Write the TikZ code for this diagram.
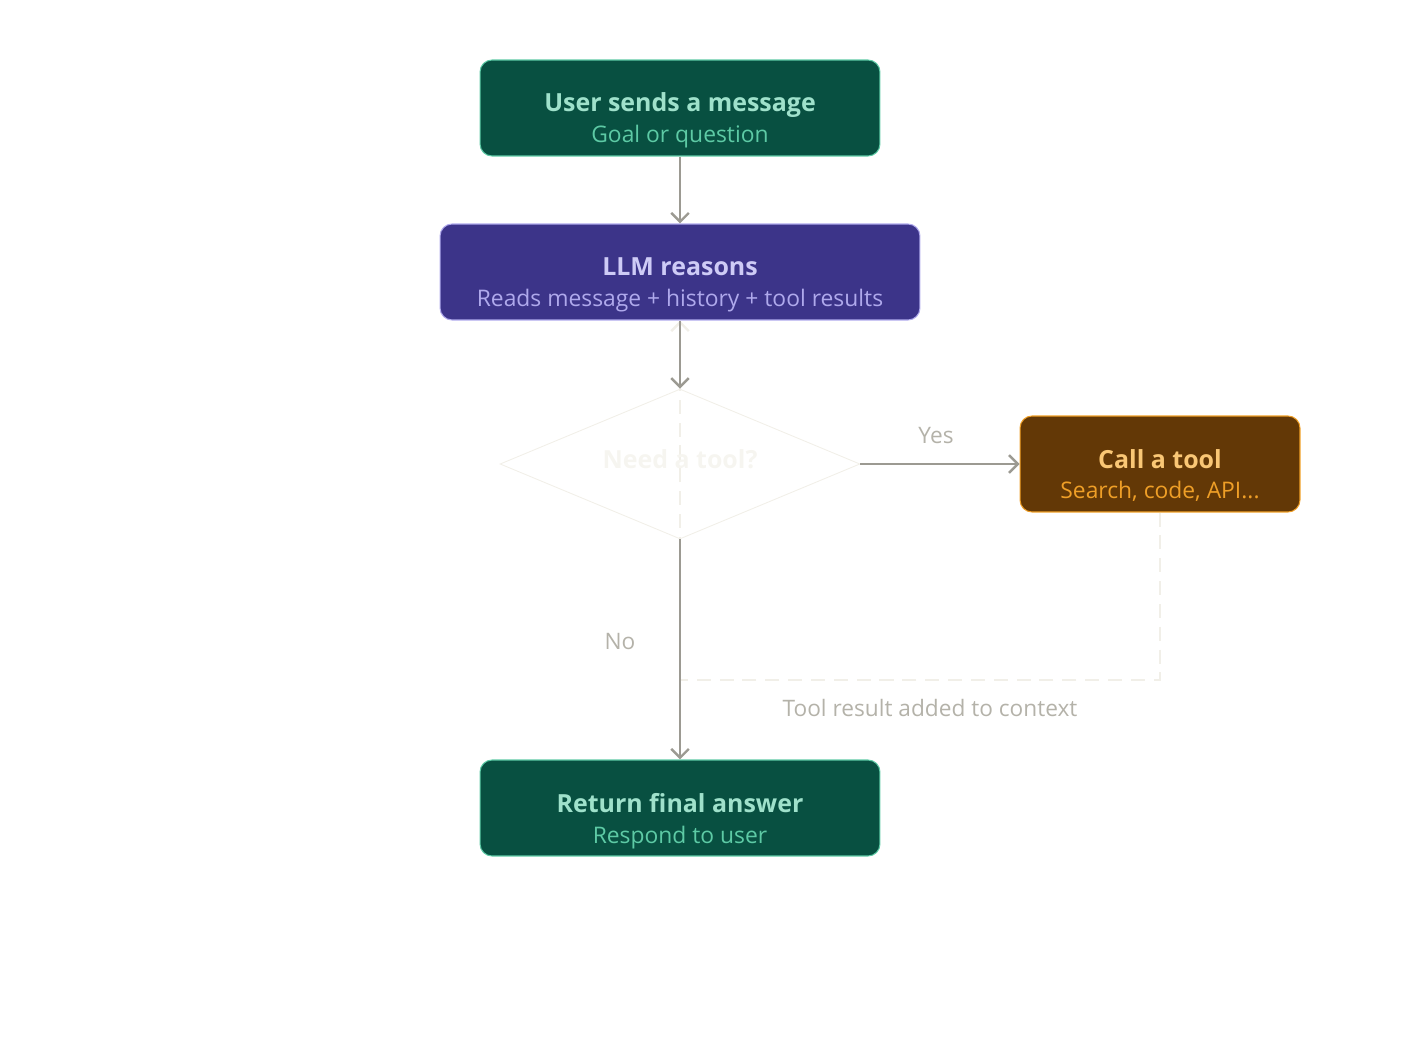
\documentclass[tikz,border=0pt]{standalone}
\usepackage{fontspec}
\setmainfont{Open Sans}
\usetikzlibrary{shapes.geometric,arrows.meta}

\definecolor{vertfond}{HTML}{085041}
\definecolor{vertbord}{HTML}{5DCAA5}
\definecolor{verttitre}{HTML}{9FE1CB}
\definecolor{violetfond}{HTML}{3C3489}
\definecolor{violetbord}{HTML}{AFA9EC}
\definecolor{violettitre}{HTML}{CECBF6}
\definecolor{ambrefond}{HTML}{633806}
\definecolor{ambrebord}{HTML}{EF9F27}
\definecolor{ambretitre}{HTML}{FAC775}
\definecolor{fleche}{HTML}{9C9A92}
\definecolor{etiq}{HTML}{B4B2A9}
\definecolor{pale}{HTML}{F1EFE8}
\definecolor{palepale}{HTML}{F6F5F0}

\begin{document}
\begin{tikzpicture}[x=0.02cm,y=-0.02cm]
    \useasboundingbox (0,0) rectangle (1420,1040);
    \tikzstyle{boite}=[rectangle,rounded corners=6.8pt,line width=0.6pt,inner sep=0pt]
    \tikzstyle{titre}=[anchor=base,font=\fontsize{14.2}{17}\selectfont\bfseries,inner sep=0pt]
    \tikzstyle{sous}=[anchor=base,font=\fontsize{13}{16}\selectfont,inner sep=0pt]
    \tikzstyle{etiquette}=[font=\fontsize{12.9}{16}\selectfont,text=etiq,inner sep=0pt]
    \tikzstyle{suite}=[-{Straight Barb[length=5pt,width=10pt,line width=1.4pt]},line width=1.4pt,draw=fleche]

    %%%%%%%%%%%%%%%%%%%%%%%%%%%%%%%%%%%%%% Boites
    \node[boite,fill=vertfond,draw=vertbord,minimum width=8cm,minimum height=1.92cm] (msg) at (680,108){};
    \node[boite,fill=violetfond,draw=violetbord,minimum width=9.6cm,minimum height=1.92cm] (llm) at (680,272){};
    \node[boite,fill=ambrefond,draw=ambrebord,minimum width=5.6cm,minimum height=1.92cm] (outil) at (1160,464){};
    \node[boite,fill=vertfond,draw=vertbord,minimum width=8cm,minimum height=1.92cm] (rep) at (680,808){};

    %%%%%%%%%%%%%%%%%%%%%%%%%%%%%%%%%%%%%% Boucle
    \coordinate (retour) at (680,680);
    \draw[pale,line width=1.4pt,dash pattern=on 8pt off 5pt,-{Straight Barb[length=5pt,width=10pt]}] (outil.south) |- (retour) -- (llm.south);

    %%%%%%%%%%%%%%%%%%%%%%%%%%%%%%%%%%%%%% Question
    \node[diamond,draw=pale,line width=0.5pt,aspect=2.4,minimum width=7.2cm,minimum height=3cm,inner sep=0pt] (dec) at (680,464){};

    %%%%%%%%%%%%%%%%%%%%%%%%%%%%%%%%%%%%%% Textes
    \node[titre,text=verttitre] (msgt) at (680,112){User sends a message};
    \node[sous,text=vertbord] (msgs) at (680,143){Goal or question};
    \node[titre,text=violettitre] (llmt) at (680,276){LLM reasons};
    \node[sous,text=violetbord] (llms) at (680,307){Reads message + history + tool results};
    \node[titre,text=palepale] (dect) at (680,468){Need a tool?};
    \node[titre,text=ambretitre] (outilt) at (1160,468){Call a tool};
    \node[sous,text=ambrebord] (outils) at (1160,499){Search, code, API...};
    \node[titre,text=verttitre] (rept) at (680,812){Return final answer};
    \node[sous,text=vertbord] (reps) at (680,843){Respond to user};

    %%%%%%%%%%%%%%%%%%%%%%%%%%%%%%%%%%%%%% Fleches
    \draw[suite] (msg.south)--(llm.north);
    \draw[suite] (llm.south)--(dec.north);
    \draw[suite] (dec.east)--(outil.west);
    \draw[suite] (dec.south)--(rep.north);

    \node[etiquette] (oui) at (936,436){Yes};
    \node[etiquette] (non) at (620,642){No};
    \node[etiquette] (ajout) at (930,708){Tool result added to context};
\end{tikzpicture}
\end{document}
